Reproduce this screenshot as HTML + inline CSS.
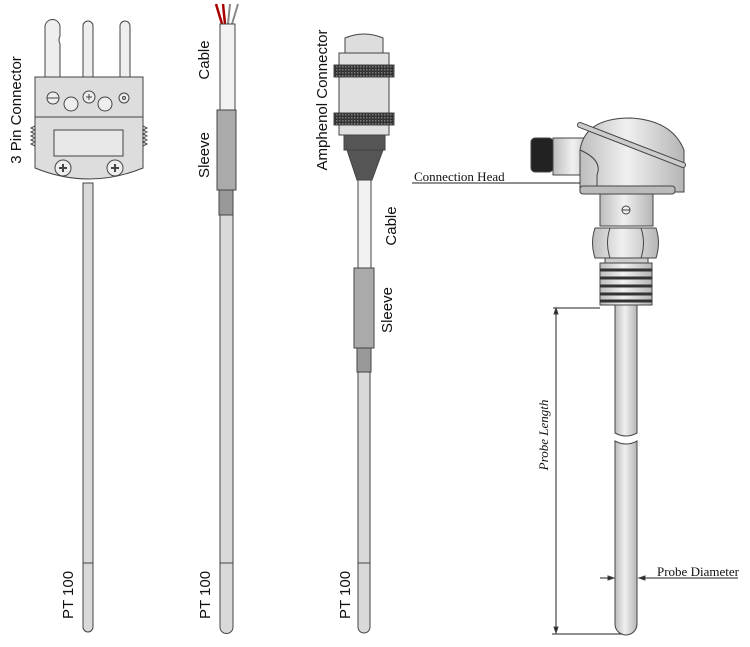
<!DOCTYPE html>
<html><head><style>
html,body{margin:0;padding:0;background:#fff;width:750px;height:647px;overflow:hidden}
</style></head><body>
<svg width="750" height="647" viewBox="0 0 750 647" xmlns="http://www.w3.org/2000/svg">
<defs>
<linearGradient id="g" x1="0" x2="1"><stop offset="0" stop-color="#bdbdbd"/><stop offset="0.45" stop-color="#f0f0f0"/><stop offset="1" stop-color="#b5b5b5"/></linearGradient>
<linearGradient id="gd" x1="0" x2="1"><stop offset="0" stop-color="#555"/><stop offset="0.5" stop-color="#888"/><stop offset="1" stop-color="#444"/></linearGradient>
<pattern id="knurl" width="3" height="3" patternUnits="userSpaceOnUse"><rect width="3" height="3" fill="#333"/><rect width="1.5" height="1.5" fill="#777"/></pattern>
</defs>
<g stroke="#444" stroke-width="1" fill="#d9d9d9">
<!-- 1: 3 pin connector -->
<path d="M45 77 V27 a7.5 7.5 0 0 1 15 0 V36 q-2 4 0 8 V77 Z" fill="#eee"/>
<path d="M83 77 V26 a5 5 0 0 1 10 0 V77 Z" fill="#eee"/>
<path d="M120 77 V26 a5 5 0 0 1 10 0 V77 Z" fill="#eee"/>
<rect x="35" y="77" width="108" height="40" fill="#ddd"/>
<path d="M35 117 H143 V168 Q89 190 35 168 Z" fill="#ddd"/>
<rect x="54" y="130" width="69" height="26" fill="#e8e8e8"/>
<circle cx="63" cy="168" r="8" fill="#eee"/><path d="M59 168h8M63 164v8" stroke-width="2"/>
<circle cx="115" cy="168" r="8" fill="#eee"/><path d="M111 168h8M115 164v8" stroke-width="2"/>
<circle cx="53" cy="98" r="6" fill="#eee"/><path d="M47 98h12"/>
<circle cx="71" cy="104" r="7" fill="#eee"/>
<circle cx="89" cy="97" r="6" fill="#eee"/><path d="M86 97h6M89 94v6"/>
<circle cx="105" cy="104" r="7" fill="#eee"/>
<circle cx="124" cy="98" r="5" fill="#eee"/><circle cx="124" cy="98" r="1.5"/>
<path d="M35 126 l-4 2 4 2 -4 2 4 2 -4 2 4 2 -4 2 4 2 -4 2 4 2 M143 126 l4 2 -4 2 4 2 -4 2 4 2 -4 2 4 2 -4 2 4 2 -4 2" fill="none"/>
<path d="M83 183 V627 a5 5 0 0 0 10 0 V183 Z"/>
<path d="M83 563 H93"/>
<!-- 2: cable -->
<path d="M222 24 l-6 -20 M225 24 l-2 -20" stroke="#a00" stroke-width="2.5"/>
<path d="M228 24 l2 -20 M232 24 l6 -20" stroke="#888" stroke-width="2"/>
<rect x="220" y="24" width="15" height="86" fill="#f2f2f2"/>
<rect x="217" y="110" width="19" height="80" fill="#aaa"/>
<rect x="219" y="190" width="14" height="25" fill="#999"/>
<path d="M220 215 V627 a6 6 0 0 0 13 0 V215 Z"/>
<path d="M220 563 H233"/>
<!-- 3: amphenol -->
<path d="M345 56 V38 q19 -8 38 0 V56 Z" fill="#ddd"/>
<rect x="339" y="53" width="50" height="82" fill="#e0e0e0"/>
<rect x="334" y="65" width="60" height="12" fill="url(#knurl)"/>
<rect x="334" y="113" width="60" height="12" fill="url(#knurl)"/>
<rect x="344" y="135" width="41" height="15" fill="#555"/>
<path d="M347 150 H383 L372 180 H357 Z" fill="#555"/>
<rect x="358" y="180" width="13" height="88" fill="#f2f2f2"/>
<rect x="354" y="268" width="20" height="80" fill="#aaa"/>
<rect x="357" y="348" width="14" height="24" fill="#999"/>
<path d="M358 372 V627 a6 6 0 0 0 12 0 V372 Z"/>
<path d="M358 563 H370"/>
<!-- 4: head -->
<rect x="531" y="138" width="22" height="34" rx="4" fill="#222"/>
<rect x="553" y="138" width="44" height="37" fill="url(#g)"/>
<path d="M580 192 V150 Q585 118 630 118 Q672 120 684 150 V192 Z" fill="url(#g)"/>
<path d="M580 150 Q603 160 597 175 V192" fill="none"/>
<path d="M580 125 L683 165" stroke="#444" stroke-width="6" stroke-linecap="round"/>
<path d="M580 125 L683 165" stroke="#ccc" stroke-width="4" stroke-linecap="round"/>
<rect x="580" y="186" width="95" height="8" rx="3" fill="#bbb"/>
<rect x="600" y="194" width="53" height="32" fill="url(#g)"/>
<circle cx="626" cy="210" r="4" fill="#eee"/><path d="M622 210h8"/>
<path d="M595 228 H656 Q661 243 656 258 H595 Q590 243 595 228 Z" fill="url(#g)"/>
<path d="M610 228 Q605 243 610 258 M641 228 Q646 243 641 258" fill="none"/>
<rect x="605" y="258" width="43" height="5" fill="#ccc"/>
<rect x="600" y="263" width="52" height="42" fill="url(#g)"/>
<path d="M600 270 H652 M600 278 H652 M600 286 H652 M600 294 H652 M600 301 H652" stroke="#333" stroke-width="3"/>
<path d="M615 305 V433 Q626 439 637 433 V305 Z" fill="url(#g)"/>
<path d="M615 441 Q626 447 637 441 V624 a11 11 0 0 1 -22 0 Z" fill="url(#g)"/>
<path d="M553 308 H600 M556 308 V633 M552 634 H622 M412 183 H580 M600 578 H612 M641 578 H738" stroke="#222"/>
<path d="M556 308 l-2 6 h4 Z M556 633 l-2 -6 h4 Z M614 578 l-6 -2 v4 Z M639 578 l6 -2 v4 Z" fill="#222"/>
</g>
<g font-family="Liberation Sans, sans-serif" font-size="15" fill="#111">
<text transform="translate(21,110) rotate(-90)" text-anchor="middle">3 Pin Connector</text>
<text transform="translate(209,60) rotate(-90)" text-anchor="middle">Cable</text>
<text transform="translate(209,155) rotate(-90)" text-anchor="middle">Sleeve</text>
<text transform="translate(327,100) rotate(-90)" text-anchor="middle">Amphenol Connector</text>
<text transform="translate(396,226) rotate(-90)" text-anchor="middle">Cable</text>
<text transform="translate(392,310) rotate(-90)" text-anchor="middle">Sleeve</text>
<text transform="translate(73,595) rotate(-90)" text-anchor="middle">PT 100</text>
<text transform="translate(210,595) rotate(-90)" text-anchor="middle">PT 100</text>
<text transform="translate(350,595) rotate(-90)" text-anchor="middle">PT 100</text>
</g>
<g font-family="Liberation Serif, serif" font-size="13" fill="#111">
<text x="414" y="181">Connection Head</text>
<text x="657" y="576">Probe Diameter</text>
<text transform="translate(548,435) rotate(-90)" text-anchor="middle" font-style="italic">Probe Length</text>
</g>
</svg>
</body></html>
